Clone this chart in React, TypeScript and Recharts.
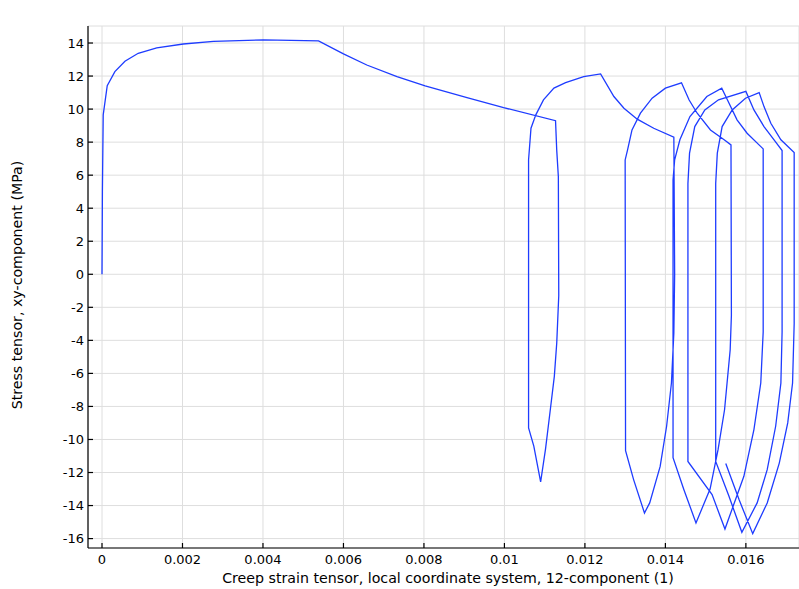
import React from "react";
import { LineChart, Line, XAxis, YAxis, CartesianGrid } from "recharts";

const creepStrain: number[] = [
  0, 0.00001, 0.00003, 0.00013, 0.00032, 0.00057, 0.0009, 0.00136, 0.00202, 0.00277, 0.00401, 0.00538,
  0.006, 0.00658, 0.00733, 0.00803, 0.00907, 0.00998, 0.01127,
  0.0113, 0.01134, 0.01135, 0.0113, 0.01124, 0.01114, 0.01102, 0.0109,
  0.01073, 0.0106,
  0.0106, 0.01066, 0.01078, 0.01097, 0.01123, 0.01152, 0.01197, 0.01239,
  0.01272, 0.01297, 0.0133, 0.01371, 0.01421,
  0.01423, 0.01421, 0.01415, 0.01403, 0.01387, 0.01361, 0.01348,
  0.01321, 0.01301,
  0.013, 0.01306, 0.01317, 0.01338, 0.01367, 0.014, 0.0144,
  0.01459, 0.01479, 0.01512, 0.01546, 0.01563,
  0.01564, 0.01561, 0.01547, 0.01531, 0.01511, 0.01476,
  0.01446, 0.01419,
  0.01419, 0.01423, 0.01436, 0.01461, 0.01503, 0.0154,
  0.01554, 0.01578, 0.01603, 0.01643,
  0.01643, 0.01637, 0.0162, 0.01595, 0.01548,
  0.01516, 0.01456,
  0.01456, 0.0146, 0.01473, 0.01498, 0.01532, 0.016,
  0.0162, 0.01645, 0.0167, 0.0169,
  0.0169, 0.01687, 0.01674, 0.01653, 0.01628, 0.0159,
  0.01558, 0.01525,
  0.01525, 0.01529, 0.01541, 0.01566, 0.01599, 0.01633,
  0.01645, 0.01662, 0.01687, 0.0172,
  0.0172, 0.01716, 0.01704, 0.01683, 0.01653, 0.01617,
  0.01583, 0.0155,
];

const stressXY: number[] = [
  0, 5, 9.65, 11.42, 12.27, 12.9, 13.38, 13.7, 13.94, 14.1, 14.19, 14.13,
  13.34, 12.67, 11.97, 11.4, 10.7, 10.09, 9.3,
  7.5, 5.9, -1.3, -4.16, -6.18, -8.2, -10.6, -12.57,
  -10.4, -9.3,
  6.93, 8.84, 9.65, 10.56, 11.27, 11.6, 11.97, 12.13,
  10.76, 10.05, 9.39, 8.84, 8.3,
  0, -3.56, -6.58, -9.2, -11.63, -13.84, -14.45,
  -12.43, -10.68,
  6.92, 7.53, 8.74, 9.75, 10.66, 11.27, 11.59,
  10.55, 9.75, 8.74, 8.14, 7.83,
  -2.5, -4.57, -8.2, -10.6, -13.0, -15.05,
  -13.04, -11.1,
  5.7, 6.93, 8.14, 9.55, 10.76, 11.27,
  10.56, 9.35, 8.54, 7.59,
  -3.5, -6.58, -9.4, -12.23, -15.42,
  -13.34, -11.33,
  5.5, 7.33, 8.94, 9.95, 10.56, 11.07,
  9.95, 8.94, 8.14, 7.49,
  -3.5, -6.58, -9.2, -11.83, -13.84, -15.62,
  -13.44, -11.33,
  5.5, 7.33, 8.94, 9.95, 10.66, 11.0,
  10.15, 9.14, 8.14, 7.37,
  -3, -6.58, -9.0, -11.43, -13.84, -15.7,
  -13.64, -11.46,
];

const xTicks: number[] = [0, 0.002, 0.004, 0.006, 0.008, 0.01, 0.012, 0.014, 0.016];
const yTicks: number[] = [-16, -14, -12, -10, -8, -6, -4, -2, 0, 2, 4, 6, 8, 10, 12, 14];

const titleText = "Point Graph: Stress tensor, xy-component (MPa)";
const xLabelText = "Creep strain tensor, local coordinate system, 12-component (1)";
const yLabelText = "Stress tensor, xy-component (MPa)";

const data = creepStrain.map((x, i) => ({ x, y: stressXY[i] }));

const FONT = "'DejaVu Sans', sans-serif";

const TitleLabel = () => (
  <text x={447} y={16} textAnchor="middle" fontFamily={FONT} fontSize={13} fill="#000">
    {titleText}
  </text>
);

const XLabel = () => (
  <text x={448} y={583} textAnchor="middle" fontFamily={FONT} fontSize={14.2} fill="#000">
    {xLabelText}
  </text>
);

const YLabel = () => (
  <text
    x={22}
    y={285}
    textAnchor="middle"
    fontFamily={FONT}
    fontSize={14.2}
    fill="#000"
    transform="rotate(-90 22 285)"
  >
    {yLabelText}
  </text>
);

export default function App() {
  return (
    <div style={{ width: 799, height: 589 }}>
      <style>{"html,body{margin:0;padding:0;overflow:hidden;}"}</style>
      <LineChart
        width={799}
        height={589}
        data={data}
        margin={{ top: 26, right: 0, bottom: 0, left: 0 }}
      >
        <CartesianGrid stroke="#dedede" strokeWidth={1} />
        <XAxis
          dataKey="x"
          type="number"
          domain={[-0.000348, 0.01732]}
          ticks={xTicks}
          tickFormatter={(v: number) => String(v)}
          allowDataOverflow
          height={41}
          tickSize={-5}
          tickMargin={12}
          axisLine={{ stroke: "#000", strokeWidth: 1.2 }}
          tickLine={{ stroke: "#000", strokeWidth: 1.2 }}
          tick={{ fill: "#000", fontSize: 13, fontFamily: FONT }}
          label={<XLabel />}
        />
        <XAxis
          xAxisId="top"
          orientation="top"
          dataKey="x"
          type="number"
          domain={[-0.000348, 0.01732]}
          ticks={xTicks}
          allowDataOverflow
          height={0}
          tickSize={-5}
          tick={false}
          axisLine={{ stroke: "#000", strokeWidth: 1.2 }}
          tickLine={{ stroke: "#000", strokeWidth: 1.2 }}
          label={<TitleLabel />}
        />
        <YAxis
          dataKey="y"
          type="number"
          domain={[-16.57, 15.03]}
          ticks={yTicks}
          allowDataOverflow
          width={88}
          tickSize={-5}
          tickMargin={9}
          axisLine={{ stroke: "#000", strokeWidth: 1.2 }}
          tickLine={{ stroke: "#000", strokeWidth: 1.2 }}
          tick={{ fill: "#000", fontSize: 13, fontFamily: FONT }}
          label={<YLabel />}
        />
        <Line
          dataKey="y"
          type="linear"
          stroke="#1e3cff"
          strokeWidth={1.3}
          dot={false}
          activeDot={false}
          isAnimationActive={false}
        />
      </LineChart>
    </div>
  );
}
